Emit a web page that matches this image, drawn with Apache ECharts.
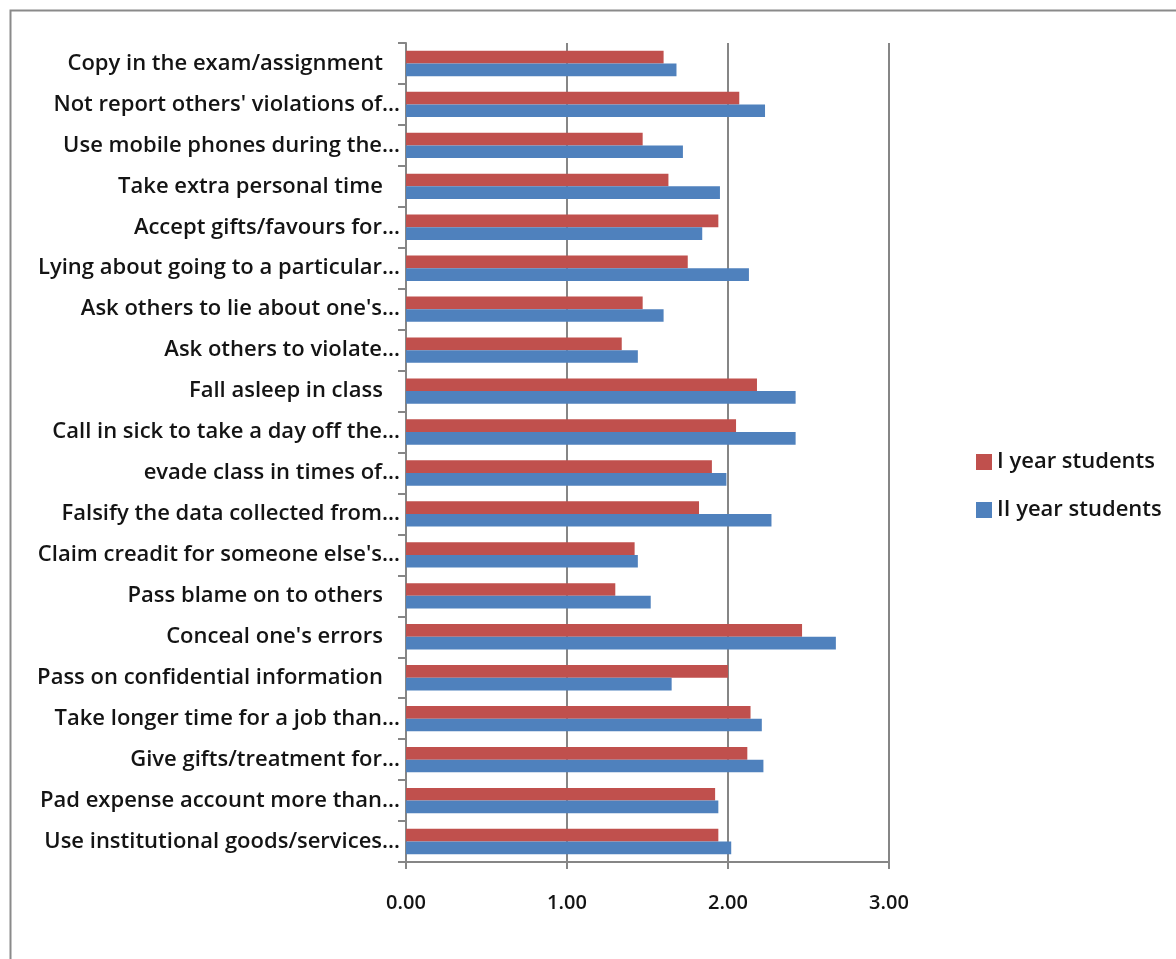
<!DOCTYPE html>
<html>
<head>
<meta charset="utf-8">
<script src="https://cdn.jsdelivr.net/npm/echarts@6/dist/echarts.min.js"></script>
<style>
html,body{margin:0;padding:0;background:#fff;}
#chart{width:1176px;height:959px;}
</style>
</head>
<body>
<div id="chart"></div>
<script>
var categories = [
  "Copy in the exam/assignment   ",
  "Not report others' violations of…",
  "Use mobile phones during the…",
  "Take extra personal time   ",
  "Accept gifts/favours for…",
  "Lying about going to a particular…",
  "Ask others to lie about one's…",
  "Ask others to violate…",
  "Fall asleep in class   ",
  "Call in sick to take a day off the…",
  "evade class in times of…",
  "Falsify the data collected from…",
  "Claim creadit for someone else's…",
  "Pass blame on to others   ",
  "Conceal one's errors   ",
  "Pass on confidential information   ",
  "Take longer time for a job than…",
  "Give gifts/treatment for…",
  "Pad expense account more than…",
  "Use institutional goods/services…"
];
var firstYear = [1.60, 2.07, 1.47, 1.63, 1.94, 1.75, 1.47, 1.34, 2.18, 2.05, 1.90, 1.82, 1.42, 1.30, 2.46, 2.00, 2.14, 2.12, 1.92, 1.94];
var secondYear = [1.68, 2.23, 1.72, 1.95, 1.84, 2.13, 1.60, 1.44, 2.42, 2.42, 1.99, 2.27, 1.44, 1.52, 2.67, 1.65, 2.21, 2.22, 1.94, 2.02];
var xTicks = [0, 1, 2, 3];
var seriesNames = ["I year students", "II year students"];

var chart = echarts.init(document.getElementById('chart'), null, {renderer: 'canvas'});
var font = "'Open Sans', 'Liberation Sans', sans-serif";
var txt = '#141414';
var option = {
  animation: false,
  backgroundColor: '#ffffff',
  textStyle: {fontFamily: font},
  graphic: [{
    type: 'rect',
    left: 8, top: 8,
    shape: {width: 1200, height: 1000},
    style: {fill: 'none', stroke: '#8a8a8a', lineWidth: 2},
    silent: true
  }],
  legend: {
    orient: 'vertical',
    left: 971,
    top: 446,
    itemWidth: 16,
    itemHeight: 16,
    itemGap: 26,
    icon: 'rect',
    textStyle: {fontFamily: font, fontSize: 22, fontWeight: 600, color: txt},
    data: seriesNames
  },
  grid: {left: 406, right: 287, top: 43, bottom: 97, containLabel: false},
  xAxis: {
    type: 'value',
    min: xTicks[0],
    max: xTicks[xTicks.length - 1],
    interval: 1,
    axisLine: {show: true, lineStyle: {color: '#868686', width: 2}},
    axisTick: {show: true, length: 7, lineStyle: {color: '#868686', width: 2}},
    splitLine: {show: true, lineStyle: {color: '#868686', width: 2}},
    axisLabel: {
      margin: 31,
      fontFamily: font, fontSize: 20, fontWeight: 600, color: txt,
      formatter: function (v) { return v.toFixed(2); }
    }
  },
  yAxis: {
    type: 'category',
    inverse: true,
    data: categories,
    axisLine: {show: true, lineStyle: {color: '#868686', width: 2}},
    axisTick: {show: true, length: 8, lineStyle: {color: '#868686', width: 2}},
    axisLabel: {margin: 6, fontFamily: font, fontSize: 22, fontWeight: 600, color: txt}
  },
  series: [
    {name: seriesNames[0], type: 'bar', data: firstYear, barGap: '0%', barCategoryGap: '38%',
     itemStyle: {color: '#C0504D'}},
    {name: seriesNames[1], type: 'bar', data: secondYear, barGap: '0%', barCategoryGap: '38%',
     itemStyle: {color: '#4F81BD'}}
  ]
};
chart.setOption(option);
</script>
</body>
</html>
